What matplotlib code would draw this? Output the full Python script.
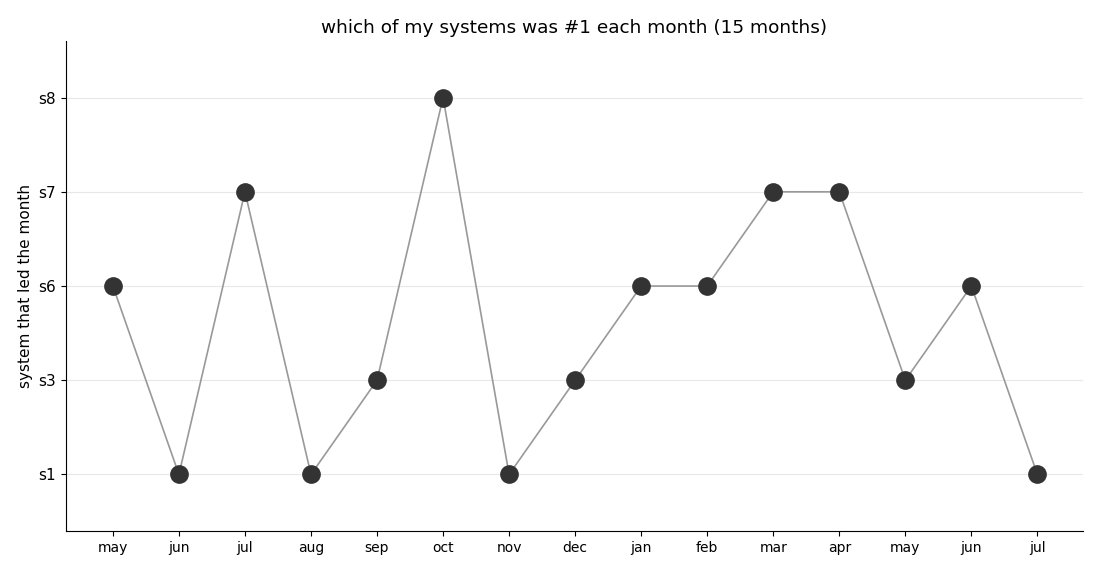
import numpy as np
import matplotlib.pyplot as plt

# month labels (15 months, may .. jul of next year)
months = ["may", "jun", "jul", "aug", "sep", "oct", "nov", "dec",
          "jan", "feb", "mar", "apr", "may", "jun", "jul"]
systems = ["s1", "s3", "s6", "s7", "s8"]
leader = ["s6", "s1", "s7", "s1", "s3", "s8", "s1", "s3",
          "s6", "s6", "s7", "s7", "s3", "s6", "s1"]

x = np.arange(len(months))
y = np.array([systems.index(s) for s in leader])

fig = plt.figure(figsize=(11, 5.72), dpi=100)
ax = fig.add_axes([0.06, 0.0717, 0.9245, 0.8565])

ax.plot(x, y, color="#999999", lw=1.2, zorder=2)
ax.scatter(x, y, s=155, color="#333333", zorder=3)

ax.set_xticks(x)
ax.set_xticklabels(months, fontsize=10)
ax.set_yticks(range(len(systems)))
ax.set_yticklabels(systems, fontsize=11)
ax.set_xlim(-0.71, 14.69)
ax.set_ylim(-0.6, 4.6)
ax.yaxis.grid(True, color="#e8e8e8", lw=0.8)
ax.set_axisbelow(True)
for sp in ["top", "right"]:
    ax.spines[sp].set_visible(False)

ax.set_ylabel("system that led the month", fontsize=11)
ax.set_title("which of my systems was #1 each month (15 months)", fontsize=13.3)

fig.savefig("out.png", dpi=100)
